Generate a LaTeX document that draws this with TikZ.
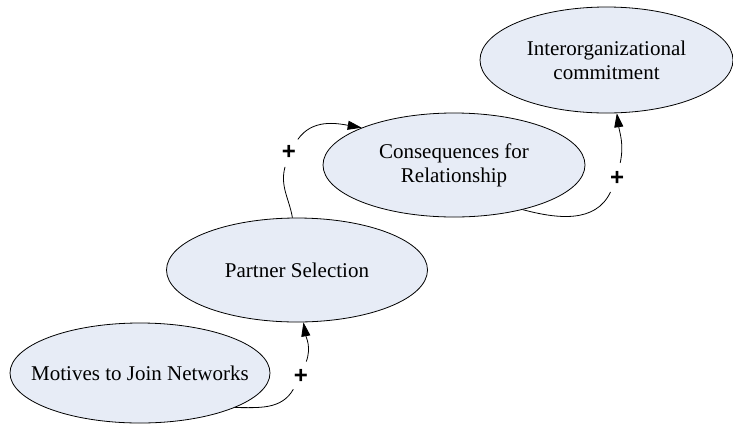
\documentclass[tikz,border=0pt]{standalone}
\usepackage{fontspec}
\setmainfont{Liberation Serif}
\newfontfamily\signfont{Liberation Sans}
\usetikzlibrary{shapes.geometric,arrows.meta}
\definecolor{boxfill}{RGB}{231,236,246}
\tikzset{
  factor/.style={ellipse, draw, fill=boxfill, inner xsep=-40pt, inner ysep=0pt,
    align=center, font=\fontsize{21}{24}\selectfont},
  sign/.style={circle, inner sep=0pt, minimum size=30pt,
    font=\signfont\bfseries\fontsize{24}{24}\selectfont},
  >={Triangle[length=14pt,width=9pt]}
}
\begin{document}
\begin{tikzpicture}[x=1pt,y=1pt,line width=0.8pt]
\useasboundingbox (0,0) rectangle (733,-424);

\node [factor, minimum width=260pt, minimum height=100pt] (mot) at (140,-373) {Motives to Join Networks};
\node [factor, minimum width=261pt, minimum height=104pt] (part) at (297,-270) {Partner Selection};
\node [factor, minimum width=262pt, minimum height=104pt] (cons) at (454,-165) {Consequences for\\Relationship};
\node [factor, minimum width=253pt, minimum height=106pt] (inter) at (606.5,-60) {Interorganizational\\commitment};

\node [sign] (p1) at (301,-376) {+};
\node [sign] (p2) at (289,-152) {+};
\node [sign] (p3) at (617,-178) {+};

% links
\draw (mot.-20) to[out=0,in=-120] (p1);
\draw [->] (p1) to[out=70,in=-80] (part.-83);

\draw (part.95) to[out=100,in=-105] (p2);
\draw [->] (p2) to[out=55,in=170] (cons.158);

\draw (cons.-33) to[out=-15,in=-115] (p3);
\draw [->] (p3) to[out=78,in=-82] (inter.-79);
\end{tikzpicture}
\end{document}
